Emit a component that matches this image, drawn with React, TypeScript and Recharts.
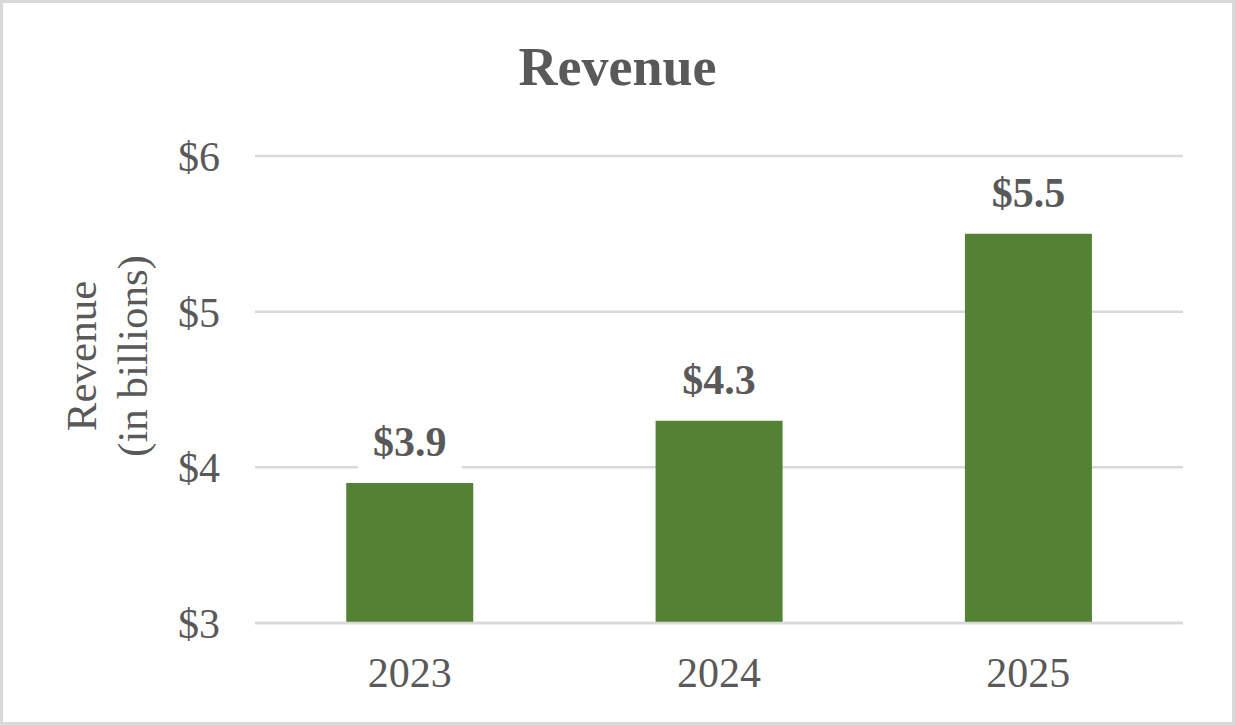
import React from "react";
import { BarChart, Bar, XAxis, YAxis, CartesianGrid, LabelList } from "recharts";

const years = ["2023", "2024", "2025"];
const revenue = [3.9, 4.3, 5.5];
const yTicks = [3, 4, 5, 6];

const chartData = years.map((year, i) => ({ year, revenue: revenue[i] }));

const FONT = '"Liberation Serif", "Times New Roman", serif';
const TEXT = "#595959";
const GRID = "#d9d9d9";
const BAR = "#548235";

// value label sits on a white box that hides the gridline behind it
function ValueLabel(props: any) {
  const { x, y, width, value } = props;
  const cx = x + width / 2;
  return (
    <g>
      <rect x={cx - 52} y={y - 64} width={104} height={52} fill="#ffffff" />
      <text
        x={cx}
        y={y - 27}
        textAnchor="middle"
        fontFamily={FONT}
        fontSize={42}
        fontWeight="bold"
        fill={TEXT}
      >
        {"$" + Number(value).toFixed(1)}
      </text>
    </g>
  );
}

function AxisTitle() {
  return (
    <g transform="translate(96, 356) rotate(-90)">
      <text x={0} y={0} textAnchor="middle" fontFamily={FONT} fontSize={43} fill={TEXT}>
        Revenue
      </text>
      <text x={0} y={51} textAnchor="middle" fontFamily={FONT} fontSize={43} fill={TEXT}>
        (in billions)
      </text>
    </g>
  );
}

export default function App() {
  return (
    <div
      style={{
        position: "absolute",
        top: 0,
        left: 0,
        width: 1235,
        height: 725,
        background: "#ffffff",
      }}
    >
      <div
        style={{
          position: "absolute",
          top: 35,
          left: 0,
          width: 1235,
          textAlign: "center",
          fontFamily: FONT,
          fontSize: 54,
          fontWeight: "bold",
          color: TEXT,
          lineHeight: "64px",
        }}
      >
        Revenue
      </div>
      <BarChart
        width={1235}
        height={725}
        data={chartData}
        margin={{ top: 156, right: 52, bottom: 0, left: 0 }}
        barCategoryGap="29.5%"
        style={{ position: "absolute", top: 0, left: 0 }}
      >
        <CartesianGrid vertical={false} stroke={GRID} strokeWidth={2.5} />
        <XAxis
          dataKey="year"
          height={102}
          axisLine={{ stroke: GRID, strokeWidth: 2.5 }}
          tickLine={false}
          tickSize={0}
          tickMargin={34}
          tick={{ fontFamily: FONT, fontSize: 42, fill: TEXT }}
        />
        <YAxis
          width={255}
          domain={[3, 6]}
          ticks={yTicks}
          axisLine={false}
          tickLine={false}
          tickSize={0}
          tickMargin={35}
          tickFormatter={(v: number) => "$" + v}
          tick={{ fontFamily: FONT, fontSize: 42, fill: TEXT }}
          label={{ content: () => <AxisTitle /> }}
        />
        <Bar dataKey="revenue" fill={BAR} isAnimationActive={false}>
          <LabelList dataKey="revenue" content={<ValueLabel />} />
        </Bar>
      </BarChart>
      <div
        style={{
          position: "absolute",
          top: 0,
          left: 0,
          width: 1235,
          height: 725,
          boxSizing: "border-box",
          border: "3px solid " + GRID,
          pointerEvents: "none",
        }}
      />
    </div>
  );
}
